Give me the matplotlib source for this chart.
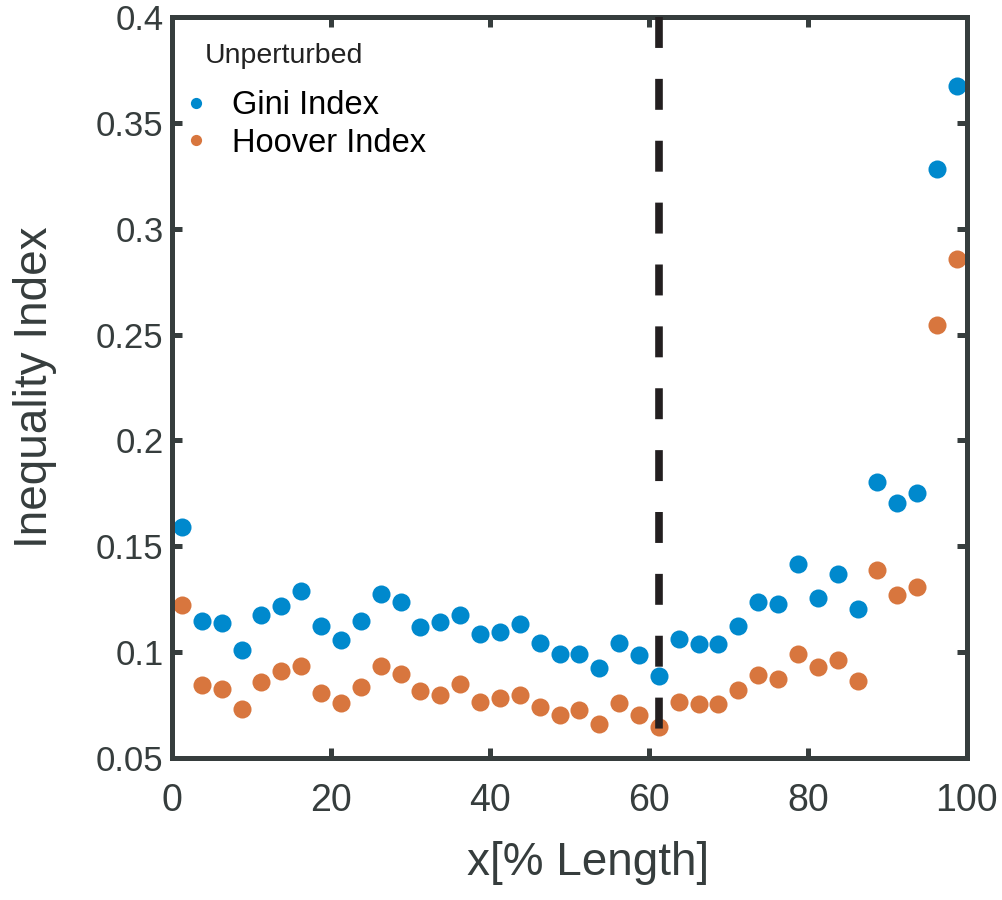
import matplotlib.pyplot as plt
import numpy as np

# positions along the length (40 bins of 2.5 %)
x_pos = np.arange(1.25, 100, 2.5)

gini = [0.1591, 0.1147, 0.1139, 0.1009, 0.1177, 0.1218, 0.1288, 0.1125, 0.1057, 0.1145,
        0.1274, 0.1237, 0.1120, 0.1141, 0.1175, 0.1085, 0.1095, 0.1131, 0.1043, 0.0990,
        0.0990, 0.0925, 0.1043, 0.0986, 0.0886, 0.1060, 0.1038, 0.1040, 0.1124, 0.1235,
        0.1227, 0.1417, 0.1255, 0.1369, 0.1203, 0.1805, 0.1703, 0.1751, 0.3281, 0.3674]
hoover = [0.1224, 0.0845, 0.0824, 0.0731, 0.0859, 0.0912, 0.0933, 0.0804, 0.0758, 0.0834,
          0.0934, 0.0895, 0.0816, 0.0796, 0.0849, 0.0764, 0.0782, 0.0797, 0.0742, 0.0702,
          0.0727, 0.0662, 0.0758, 0.0702, 0.0645, 0.0764, 0.0753, 0.0753, 0.0819, 0.0893,
          0.0873, 0.0991, 0.0930, 0.0961, 0.0862, 0.1386, 0.1270, 0.1306, 0.2544, 0.2855]
x_marker = 61.25

x_ticks = [0, 20, 40, 60, 80, 100]
y_ticks = [0.05, 0.1, 0.15, 0.2, 0.25, 0.3, 0.35, 0.4]
y_ticklabels = ['0.05', '0.1', '0.15', '0.2', '0.25', '0.3', '0.35', '0.4']

dark = '#363d3d'
blue = '#0089cd'
orange = '#d8763e'

plt.rcParams['font.family'] = ['Liberation Sans', 'DejaVu Sans']

fig = plt.figure(figsize=(10.03, 9), dpi=100)
ax = fig.add_axes([0.1715, 0.158, 0.7925, 0.823])

ax.plot(x_pos, gini, 'o', color=blue, ms=13, mec='none', label='Gini Index')
ax.plot(x_pos, hoover, 'o', color=orange, ms=13, mec='none', label='Hoover Index')

# dashed marker line, drawn on top of the points
ax.plot([x_marker, x_marker], [0.4, 0.05], color='#231f20', lw=5.5,
        dashes=(4.05, 4.05), zorder=5)

ax.set_xlim(0, 100)
ax.set_ylim(0.05, 0.4)
ax.set_xticks(x_ticks)
ax.set_yticks(y_ticks)
ax.set_yticklabels(y_ticklabels)

for s in ax.spines.values():
    s.set_linewidth(3.6)
    s.set_color(dark)
ax.tick_params(direction='in', length=7, width=3.6, color=dark, labelcolor=dark,
               top=True, right=True)
ax.tick_params(axis='x', labelsize=27, pad=18)
ax.tick_params(axis='y', labelsize=25, pad=6)

ax.set_xlabel('x[% Length]', fontsize=33, color=dark, labelpad=16)
ax.xaxis.label.set_x(0.523)
ax.set_ylabel('Inequality Index', fontsize=33, color=dark, labelpad=28)

ax.text(0.0415, 0.948, 'Unperturbed', transform=ax.transAxes, fontsize=20.5,
        color='#222222', va='center', ha='left')
leg = ax.legend(loc='upper left', bbox_to_anchor=(0.0143, 0.901), frameon=False,
                fontsize=23.5, markerscale=0.62, handlelength=0.8,
                handletextpad=0.7, labelspacing=0.19, borderaxespad=0, borderpad=0)

fig.savefig('out.png', dpi=100)
